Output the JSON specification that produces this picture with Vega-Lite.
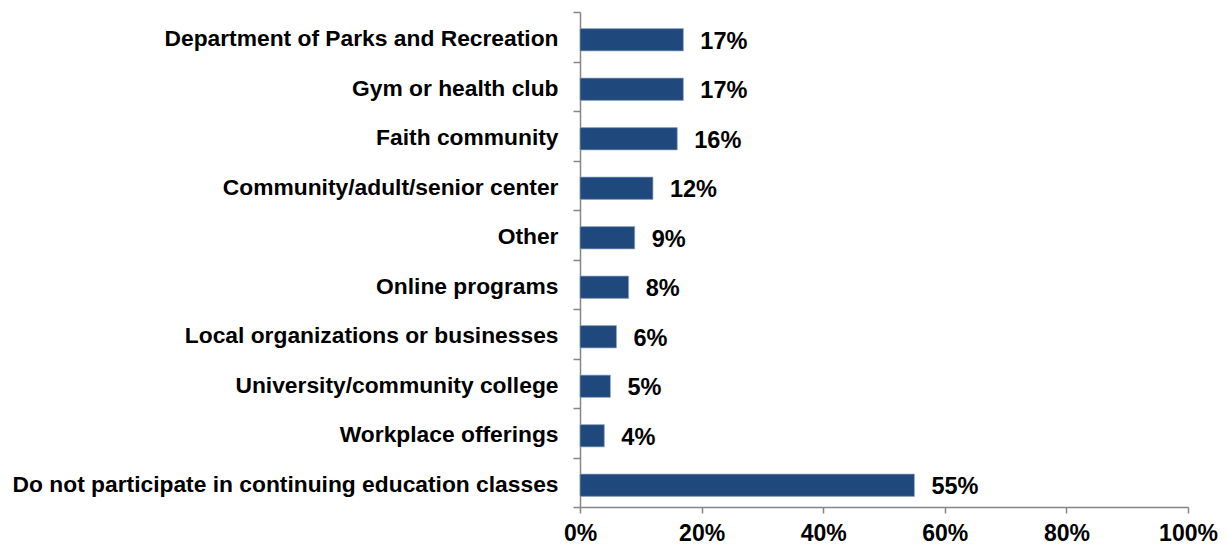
{
  "$schema": "https://vega.github.io/schema/vega-lite/v6.json",
  "width": 608,
  "height": 495,
  "autosize": {"type": "none"},
  "padding": {"left": 580, "top": 12, "right": 39, "bottom": 39},
  "background": "white",
  "config": {"view": {"stroke": null}, "font": "Liberation Sans"},
  "data": {"values": [
    {"cat": "Department of Parks and Recreation", "v": 0.17},
    {"cat": "Gym or health club", "v": 0.17},
    {"cat": "Faith community", "v": 0.16},
    {"cat": "Community/adult/senior center", "v": 0.12},
    {"cat": "Other", "v": 0.09},
    {"cat": "Online programs", "v": 0.08},
    {"cat": "Local organizations or businesses", "v": 0.06},
    {"cat": "University/community college", "v": 0.05},
    {"cat": "Workplace offerings", "v": 0.04},
    {"cat": "Do not participate in continuing education classes", "v": 0.55}
  ]},
  "encoding": {
    "y": {"field": "cat", "type": "nominal", "sort": null, "title": null,
      "scale": {"paddingInner": 0, "paddingOuter": 0},
      "axis": {"domainColor": "#868686", "domainWidth": 1.5, "tickColor": "#868686", "tickWidth": 1.5, "tickSize": 7, "bandPosition": 0, "tickBand": "extent",
        "labelFont": "Liberation Sans", "labelFontWeight": "bold", "labelFontSize": 22.8, "labelColor": "#000000", "labelPadding": 15, "labelOffset": 2, "labelLimit": 0}},
    "x": {"field": "v", "type": "quantitative", "title": null,
      "scale": {"domain": [0, 1], "nice": false},
      "axis": {"format": ".0%", "values": [0, 0.2, 0.4, 0.6, 0.8, 1], "grid": false, "domainColor": "#868686", "domainWidth": 1.5, "tickColor": "#868686", "tickWidth": 1.5, "tickSize": 6,
        "labelFont": "Liberation Sans", "labelFontWeight": "bold", "labelFontSize": 23, "labelColor": "#000000", "labelPadding": 9, "labelFlush": false}}
  },
  "layer": [
    {"mark": {"type": "bar", "height": {"band": 0.45}, "yOffset": 3, "color": "#1F497D", "stroke": "#8FA6C2", "strokeWidth": 0.7}},
    {"mark": {"type": "text", "align": "left", "baseline": "middle", "dx": 17, "dy": 5, "font": "Liberation Sans", "fontWeight": "bold", "fontSize": 23.5, "color": "#000000"},
      "encoding": {"text": {"field": "v", "type": "quantitative", "format": ".0%"}}}
  ]
}
